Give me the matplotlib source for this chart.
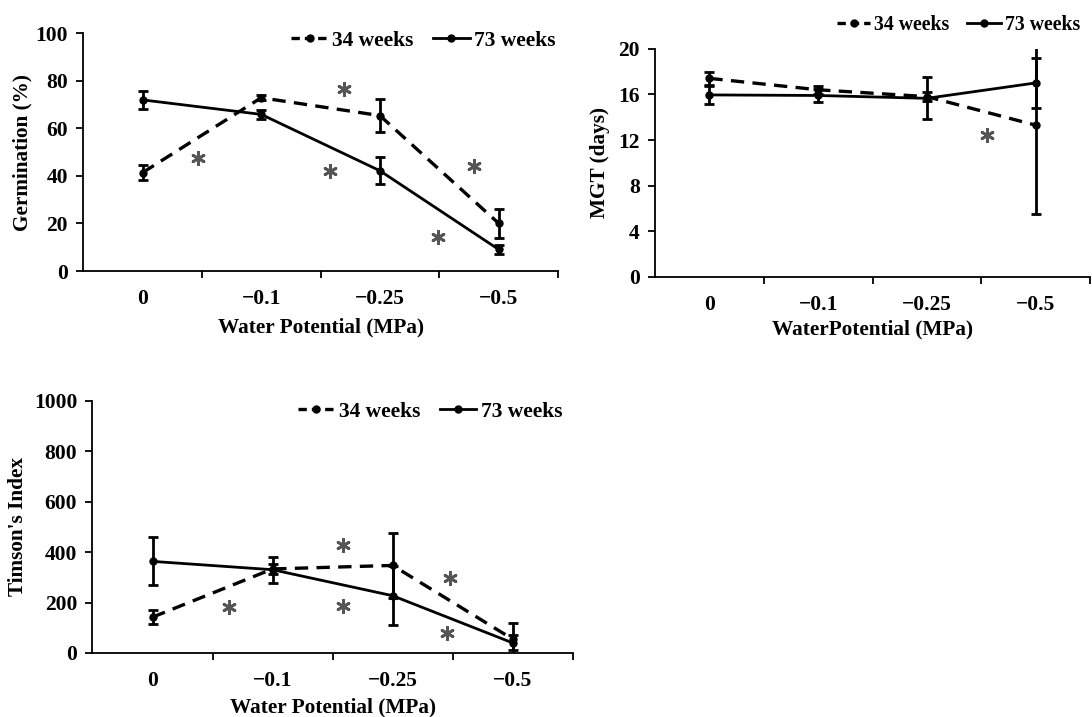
import matplotlib
matplotlib.use("Agg")
import matplotlib.pyplot as plt
from matplotlib.lines import Line2D

plt.rcParams['font.family'] = ['Liberation Serif', 'DejaVu Serif']
plt.rcParams['font.weight'] = 'bold'

categories = ["0", "\u22120.1", "\u22120.25", "\u22120.5"]
series = ["34 weeks", "73 weeks"]

germ_34 = [41.4, 72.9, 65.4, 20.1]
germ_34_err = [3.0, 1.0, 6.8, 6.0]
germ_73 = [72.0, 65.9, 42.2, 9.1]
germ_73_err = [3.8, 1.8, 5.6, 2.0]
germ_stars_x = [0.47, 1.58, 1.70, 2.49, 2.79]
germ_stars_y = [47.4, 42.2, 76.4, 14.2, 44.3]

mgt_34 = [17.4, 16.4, 15.8, 13.3]
mgt_34_err = [0.6, 0.35, 0.4, 7.8]
mgt_73 = [15.95, 15.9, 15.65, 17.0]
mgt_73_err = [0.8, 0.6, 1.85, 2.2]
mgt_stars_x = [2.55]
mgt_stars_y = [12.45]

tim_34 = [142, 333, 347, 55]
tim_34_err = [28, 20, 128, 63]
tim_73 = [363, 330, 227, 40]
tim_73_err = [95, 51, 117, 30]
tim_stars_x = [0.64, 1.59, 1.59, 2.48, 2.45]
tim_stars_y = [181, 429, 187, 297, 80]

fig = plt.figure(figsize=(10.92, 7.17), dpi=100)

FS = 15.5
LFS = 15.3


def panel(rect, y34, e34, y73, e73, ylim, yticks, ylabel, xlabel, sx, sy,
          legend_anchor, xlabelpad, ylabelpad, legfs):
    ax = fig.add_axes(rect)
    x = list(range(len(categories)))
    ax.errorbar(x, y34, yerr=e34, color='black', lw=2.4, ls=(0, (4, 2.5)),
                marker='o', ms=5, capsize=3.5, elinewidth=2, capthick=2)
    ax.errorbar(x, y73, yerr=e73, color='black', lw=2.0, ls='-',
                marker='o', ms=5, capsize=3.5, elinewidth=2, capthick=2)
    ax.scatter(sx, sy, marker=(6, 2, 0), s=80, color='#555555', linewidths=2.0,
               zorder=5)
    ax.set_xlim(-0.5, 3.5)
    ax.set_ylim(*ylim)
    ax.set_yticks(yticks)
    ax.set_yticklabels([str(v) for v in yticks], fontsize=FS, fontweight='bold')
    ax.set_xticks([0.5, 1.5, 2.5, 3.5])
    ax.set_xticklabels([])
    ax.set_xticks(x, minor=True)
    ax.set_xticklabels(categories, minor=True, fontsize=FS, fontweight='bold')
    ax.tick_params(axis='x', which='minor', length=0, pad=13)
    ax.tick_params(axis='x', which='major', length=5, width=1.3, direction='out')
    ax.tick_params(axis='y', length=5, width=1.3, direction='out', pad=6)
    for s in ['top', 'right']:
        ax.spines[s].set_visible(False)
    for s in ['left', 'bottom']:
        ax.spines[s].set_linewidth(1.3)
    ax.set_ylabel(ylabel, fontsize=LFS, fontweight='bold', labelpad=ylabelpad)
    ax.set_xlabel(xlabel, fontsize=LFS, fontweight='bold', labelpad=xlabelpad)
    handles = [
        Line2D([0], [0], color='black', lw=2.4, ls=(0, (2.5, 1.5)), marker='o', ms=5),
        Line2D([0], [0], color='black', lw=2.0, ls='-', marker='o', ms=5),
    ]
    ax.legend(handles, series, loc='center right', bbox_to_anchor=legend_anchor,
              ncol=2, frameon=False, handlelength=1.7,
              handletextpad=0.2, columnspacing=0.9, borderaxespad=0,
              prop={'weight': 'bold', 'size': legfs})
    return ax


panel([0.0762, 0.622, 0.4347, 0.3315], germ_34, germ_34_err, germ_73, germ_73_err,
      (0, 100), [0, 20, 40, 60, 80, 100], "Germination (%)", "Water Potential (MPa)",
      germ_stars_x, germ_stars_y, (1.013, 0.97), 6, 2, FS)

panel([0.5998, 0.6137, 0.3984, 0.3184], mgt_34, mgt_34_err, mgt_73, mgt_73_err,
      (0, 20), [0, 4, 8, 12, 16, 20], "MGT (days)", "WaterPotential (MPa)",
      mgt_stars_x, mgt_stars_y, (0.995, 1.104), 3, 6, 14.2)

panel([0.0847, 0.0893, 0.4397, 0.3519], tim_34, tim_34_err, tim_73, tim_73_err,
      (0, 1000), [0, 200, 400, 600, 800, 1000], "Timson's Index", "Water Potential (MPa)",
      tim_stars_x, tim_stars_y, (0.996, 0.957), 5, 4, FS)

fig.savefig("out.png", dpi=100)
